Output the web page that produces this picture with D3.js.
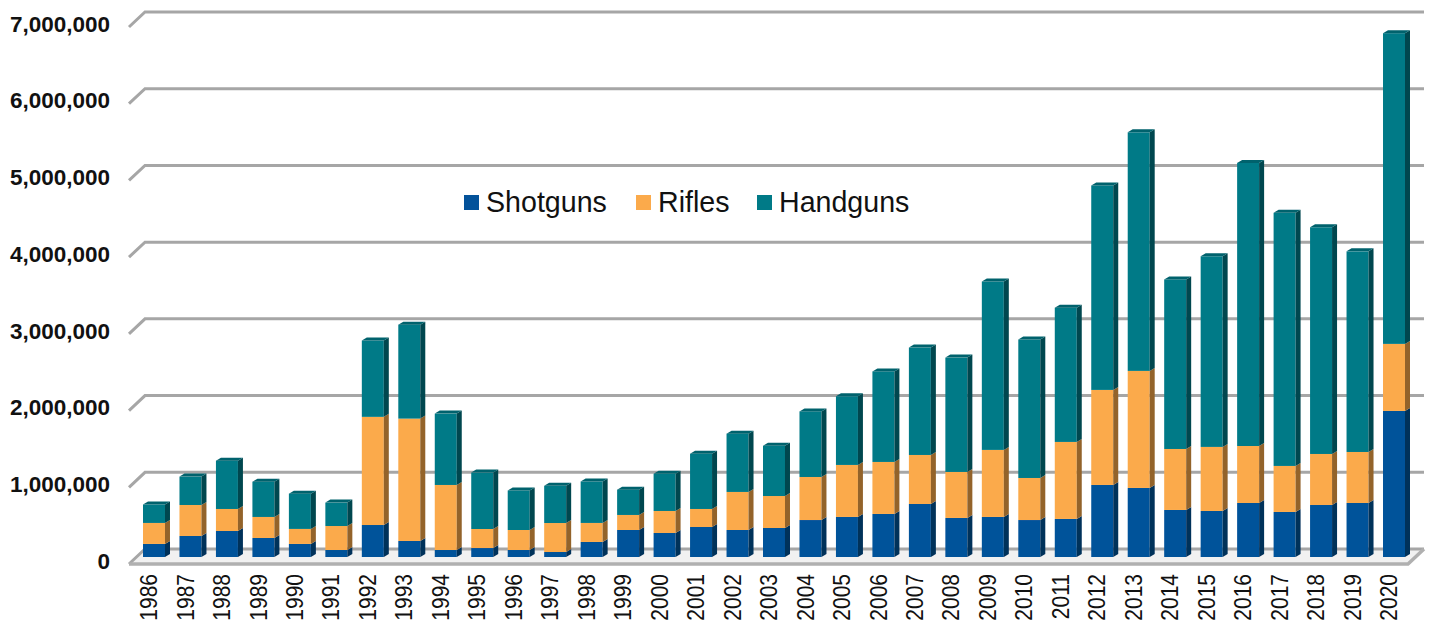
<!DOCTYPE html>
<html>
<head>
<meta charset="utf-8">
<script src="https://d3js.org/d3.v7.min.js"></script>
<style>
  html, body { margin: 0; padding: 0; background: #fff; overflow: hidden; }
  text { font-family: "Liberation Sans", Arial, sans-serif; fill: #111; }
</style>
</head>
<body>
<div id="chart"></div>
<script>
// values
let years = [1986,1987,1988,1989,1990,1991,1992,1993,1994,1995,1996,1997,1998,1999,2000,2001,2002,2003,2004,2005,2006,2007,2008,2009,2010,2011,2012,2013,2014,2015,2016,2017,2018,2019,2020];
let shotguns = [170000,274000,339000,248000,170000,91000,417000,209000,91000,117000,91000,65000,196000,352000,313000,391000,352000,378000,482000,522000,561000,691000,509000,522000,482000,496000,939000,900000,613000,600000,704000,587000,678000,704000,1904000];
let rifles = [274000,404000,287000,274000,196000,313000,1410000,1595000,848000,248000,261000,378000,248000,196000,287000,235000,496000,417000,561000,678000,678000,639000,600000,874000,548000,1004000,1239000,1526000,795000,835000,743000,600000,665000,665000,874000];
let handguns = [240000,370000,630000,460000,460000,305000,995000,1225000,930000,735000,515000,485000,540000,330000,485000,720000,760000,655000,855000,895000,1180000,1400000,1490000,2195000,1805000,1750000,2665000,3110000,2210000,2485000,3690000,3300000,2955000,2615000,4050000];
let seriesNames = ["Shotguns", "Rifles", "Handguns"];
let seriesColors = ["#03529a", "#fbaa4b", "#007a87"];
let yTicks = [0,1000000,2000000,3000000,4000000,5000000,6000000,7000000];

let svgWidth = 1429;
let svgHeight = 624;

// the 3d look: walls sit behind the axis plane, bars sit half way
let wallDx = 16, wallDy = 15;
let barDy = 7;
let sideW = 5, sideRise = 3;

let svg = d3.select("#chart").append("svg")
    .attr("width", svgWidth)
    .attr("height", svgHeight)
    .style("display", "block");

let defs = svg.append("defs");
defs.append("filter").attr("id", "soft")
    .append("feGaussianBlur").attr("stdDeviation", 0.7);

let x = d3.scaleBand().domain(years).range([143, 1410]).paddingInner(0.26);
let y = d3.scaleLinear().domain([0, 7000000]).range([564, 27]);

// floor first, then grid lines on the back wall with the slanted bit at the left
let grid = svg.append("g").attr("filter", "url(#soft)");
let wallLeft = 129, wallRight = 1424;

grid.append("path")
    .attr("fill", "#f1f1f1")
    .attr("d", `M${wallLeft},${y(0)}L${wallLeft + wallDx},${y(0) - wallDy}L${wallRight},${y(0) - wallDy}L${wallRight - wallDx},${y(0)}Z`);

grid.selectAll("path.grid")
    .data(yTicks)
    .enter()
    .append("path")
    .attr("class", "grid")
    .attr("fill", "none")
    .attr("stroke", "#a6a6a6")
    .attr("stroke-width", 3)
    .attr("d", d => `M${wallLeft},${y(d)}L${wallLeft + wallDx},${y(d) - wallDy}L${wallRight},${y(d) - wallDy}`);

grid.append("path")
    .attr("fill", "none")
    .attr("stroke", "#b0b0b0")
    .attr("stroke-width", 3.5)
    .attr("d", `M${wallLeft},${y(0)}L${wallRight - wallDx},${y(0)}L${wallRight},${y(0) - wallDy}`);

// stacks
let table = years.map((yr, i) => ({ year: yr, Shotguns: shotguns[i], Rifles: rifles[i], Handguns: handguns[i] }));
let stacked = d3.stack().keys(seriesNames)(table);

let bars = svg.append("g").attr("filter", "url(#soft)");

stacked.forEach(function(layer, li) {
    let col = seriesColors[li];
    let g = bars.append("g");
    let dark = d3.color(col).darker(1.5);

    // front face
    g.selectAll("rect")
        .data(layer)
        .enter()
        .append("rect")
        .attr("x", d => x(d.data.year))
        .attr("y", d => y(d[1]) - barDy)
        .attr("width", x.bandwidth() - sideW)
        .attr("height", d => y(d[0]) - y(d[1]))
        .attr("fill", col);

    // right side
    g.selectAll("path.side")
        .data(layer)
        .enter()
        .append("path")
        .attr("class", "side")
        .attr("fill", dark)
        .attr("d", function(d) {
            let x0 = x(d.data.year) + x.bandwidth() - sideW;
            let x1 = x(d.data.year) + x.bandwidth();
            let t = y(d[1]) - barDy, b = y(d[0]) - barDy;
            return `M${x0},${t}L${x1},${t - sideRise}L${x1},${b - sideRise}L${x0},${b}Z`;
        });

    // top cap, only the last series shows it
    if (li === seriesNames.length - 1) {
        g.selectAll("path.cap")
            .data(layer)
            .enter()
            .append("path")
            .attr("class", "cap")
            .attr("fill", d3.color(col).darker(0.6))
            .attr("d", function(d) {
                let x0 = x(d.data.year);
                let w = x.bandwidth() - sideW;
                let t = y(d[1]) - barDy;
                return `M${x0},${t}L${x0 + sideW},${t - sideRise}L${x0 + w + sideW},${t - sideRise}L${x0 + w},${t}Z`;
            });
    }
});

// axes
let leftAxis = d3.axisLeft(y).tickValues(yTicks).tickFormat(d3.format(",")).tickSize(0).tickPadding(0);
let yAxis = svg.append("g").attr("transform", "translate(110, -3)").call(leftAxis);
yAxis.select(".domain").remove();
yAxis.selectAll("text")
    .style("font-size", "22.5px")
    .style("font-weight", "bold");

let bottomAxis = d3.axisBottom(x).tickSize(0).tickPadding(0);
let xAxis = svg.append("g").attr("transform", "translate(-8, 574)").call(bottomAxis);
xAxis.select(".domain").remove();
xAxis.selectAll("text")
    .attr("transform", "rotate(-90) scale(1, 1.14)")
    .attr("x", 0)
    .attr("y", 0)
    .attr("dx", "0")
    .attr("dy", "0.36em")
    .attr("text-anchor", "end")
    .style("font-size", "21px");

// legend
let legendX = [464, 636, 757];
let legend = svg.append("g");
seriesNames.forEach(function(name, i) {
    legend.append("rect")
        .attr("x", legendX[i])
        .attr("y", 195)
        .attr("width", 15)
        .attr("height", 15)
        .attr("fill", seriesColors[i]);
    legend.append("text")
        .attr("x", legendX[i] + 22)
        .attr("y", 212)
        .style("font-size", "28.6px")
        .text(name);
});
</script>
</body>
</html>
